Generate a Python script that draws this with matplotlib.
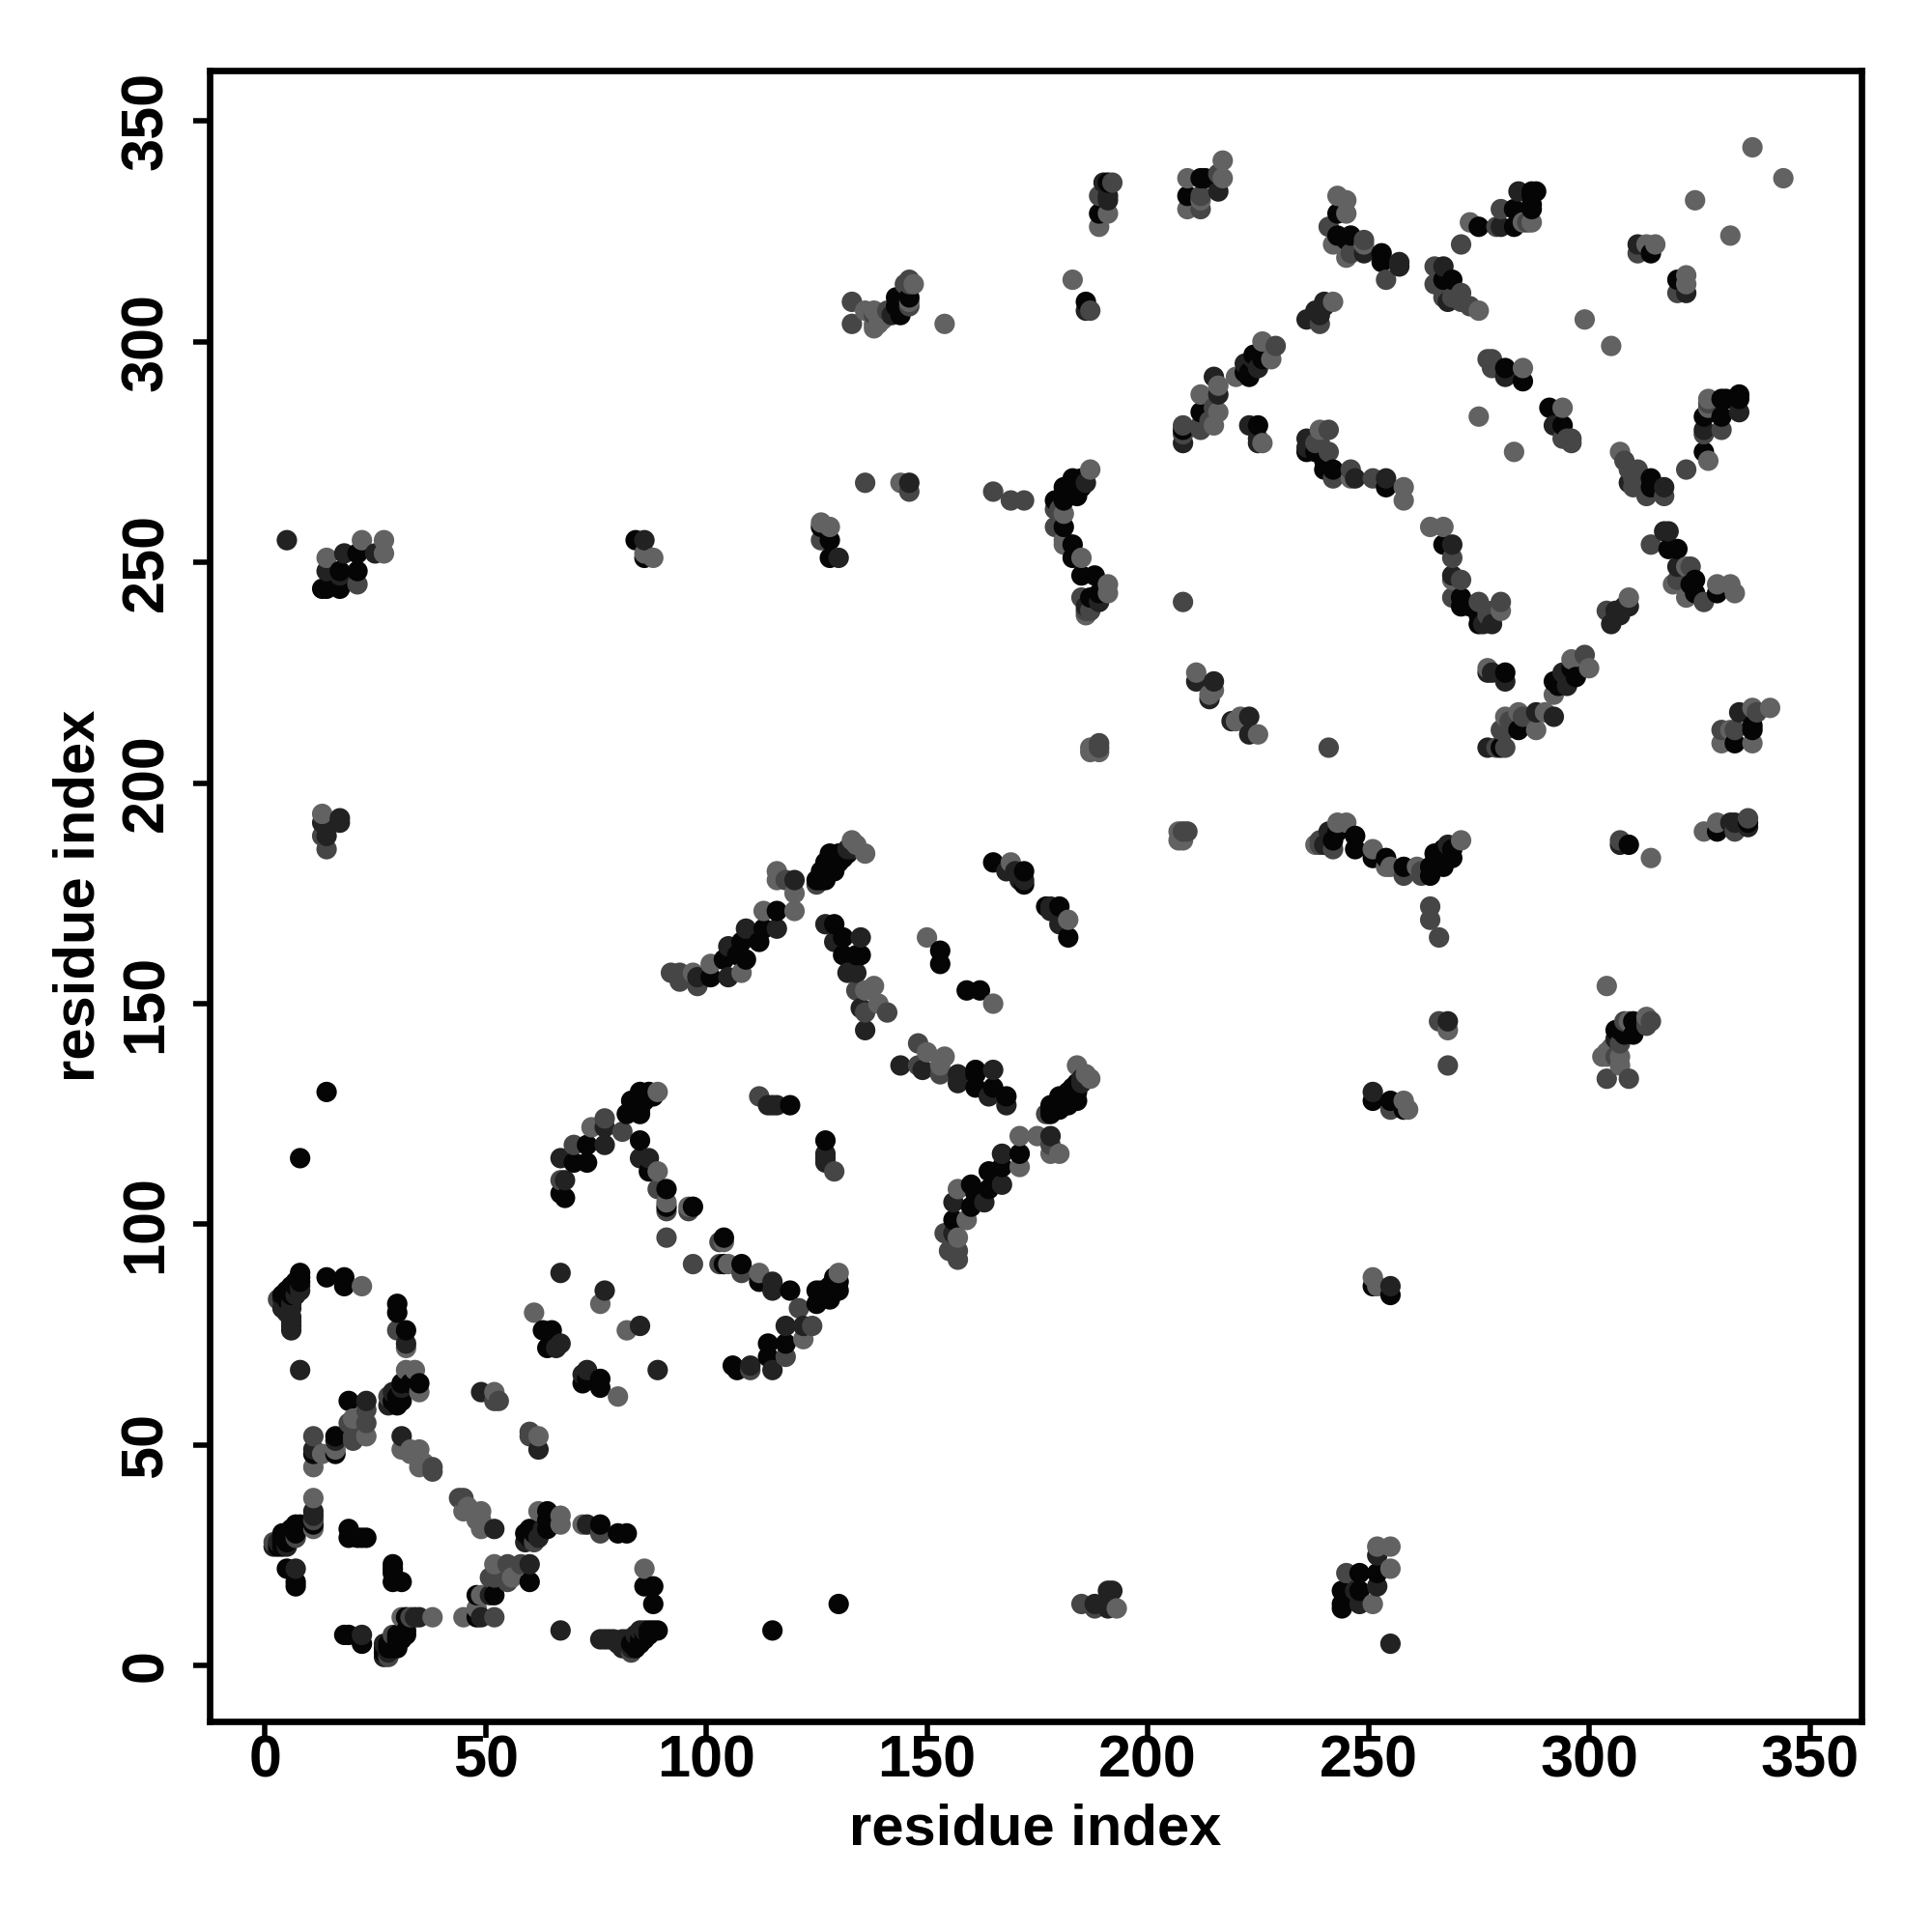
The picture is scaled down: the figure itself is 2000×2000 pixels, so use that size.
import matplotlib
matplotlib.use("Agg")
import matplotlib.pyplot as plt

tick_values = [0, 50, 100, 150, 200, 250, 300, 350]
axis_title = "residue index"

contacts_black = [
 (8,89),(8,88),(8,87),(7,87),(7,86),(6,86),(6,85),(6,84),(5,85),(5,83),(4,84),(14,88),(18,88),(18,86),
 (30,82),(30,80),(32,76),(35,64),(33,64),(31,64),(30,61),(31,60),(32,65),(30,59),(29,60),(19,60),(16,52),
 (16,48),(11,48),(63,76),(65,76),(65,73),(64,72),(5,30),(4,30),(6,30),(7,30),(5,29),(6,29),(4,28),(3,27),
 (4,27),(5,28),(8,32),(7,32),(4,29),(7,31),(6,31),(19,31),(19,29),(21,29),(23,29),(5,22),(7,19),(7,18),
 (29,23),(29,22),(29,19),(31,19),(11,32),(8,115),(14,130),
 (127,182),(126,180),(129,180),(125,178),(127,178),(129,182),(130,182),(128,184),(130,184),(116,171),
 (126,178),(127,179),(128,180),(128,181),(129,181),(130,183),(131,183),(131,184),(132,184),
 (113,167),(112,164),(108,164),(104,160),(109,160),(107,161),(101,156),(129,168),(131,165),(131,161),(135,161),
 (134,161),(153,162),(153,159),(85,130),(87,130),(83,128),(85,126),(88,129),(82,125),(85,125),(73,118),(73,114),
 (84,127),(86,128),(83,126),(84,126),(86,129),
 (70,114),(67,107),(68,106),(85,119),(87,112),(91,108),(91,104),(97,104),(104,97),(119,127),
 (165,182),(172,180),(177,172),(178,172),(180,172),(182,165),
 (143,310),(144,307),(146,310),(183,269),(185,267),(181,267),(179,264),(181,264),(181,258),(183,254),(183,251),
 (185,247),(188,247),(187,242),(189,243),(189,329),(186,309),(213,337),(209,333),(243,329),(243,324),(245,323),
 (223,292),(224,297),(222,295),(226,296),(222,293),(212,284),(225,281),(238,275),(240,271),(242,271),(247,269),
 (254,267),(211,223),(223,215),(254,314),(267,314),(269,314),(253,320),(253,318),(275,326),(283,330),(283,326),
 (288,334),(287,334),(287,330),(281,294),(285,291),(291,285),(294,281),(314,320),(314,269),(267,254),
 (271,242),(271,240),(273,240),(275,236),(277,225),(281,225),(284,212),(288,216),(280,208),(293,223),(294,225),
 (292,223),(309,186),(318,253),(320,253),(324,246),(324,243),(329,243),(337,212),(333,209),(329,189),(336,191),
 (268,186),(265,184),(258,181),(264,172),(247,188),(241,189),(247,185),(251,183),(254,183),(84,255),(21,252),
 (266,183),(267,184),(269,185),(266,182),
 (17,248),(21,248),(13,244),(14,244),(17,244),(128,251),(128,255),(126,258),(86,251),(310,146),(306,144),(308,143),
 (326,283),(330,287),(334,288),(330,283),(326,275),(331,287),(333,287),
]
contacts_dark = [
 (8,86),(8,85),(7,84),(5,82),(4,83),(6,82),(6,81),(5,81),(5,80),(6,79),(6,78),(6,77),(6,76),(4,81),(32,73),(8,67),
 (31,63),(29,62),(28,59),(23,60),(16,51),(11,49),(31,52),(49,62),(67,89),(77,85),(67,73),(66,72),(11,35),(11,34),
 (3,28),(2,27),(5,27),(7,22),
 (120,178),(116,167),(109,167),(105,163),(105,156),(98,156),(127,168),(129,164),(135,165),(132,157),(134,157),(135,149),
 (77,122),(77,118),(67,115),(68,110),(85,115),(87,115),(115,127),(116,127),(114,127),
 (168,180),(172,178),(171,178),(180,170),(133,185),(132,185),
 (142,306),(186,268),(179,262),(186,240),(189,241),(190,336),(191,332),(216,334),(240,309),(238,307),(236,305),
 (228,296),(225,294),(215,292),(216,288),(208,277),(223,281),(225,277),(236,278),(236,276),(239,277),(254,269),
 (269,254),(269,251),(269,247),(215,223),(214,219),(223,211),(249,320),(257,318),(267,317),(268,309),(284,334),
 (280,330),(279,326),(280,326),(281,292),(292,281),(311,322),(317,267),(322,271),(308,240),(306,239),(305,236),
 (307,238),(278,236),(278,225),(281,223),(292,215),(277,208),(296,224),(295,222),(318,257),(317,257),(320,249),
 (323,249),(334,216),(307,186),(333,191),(209,189),(5,255),(18,252),(25,252),(14,248),(17,247),(86,255),(130,251),
 (17,192),(17,191),(14,188),(13,191),(146,268),(136,144),(309,133),(334,284),(326,280),
]
contacts_mid = [
 (3,83),(30,76),(28,61),(23,58),(23,55),(19,55),(20,52),(20,51),(11,52),(38,45),(38,44),(53,60),(52,60),(11,33),(2,28),(7,29),
 (94,157),(92,157),(94,155),(98,154),(136,148),(141,148),(134,153),(118,178),(81,121),(77,124),(70,118),(67,110),(91,103),
 (89,108),(91,97),(96,103),(112,129),(129,112),(125,177),
 (133,309),(133,304),(146,313),(145,313),(146,308),(187,307),(146,266),(136,268),(165,266),(169,264),(172,264),(191,243),
 (179,258),(186,239),(192,336),(189,333),(212,330),(241,326),(239,304),(229,299),(216,290),(216,284),(212,280),(208,281),
 (208,279),(214,282),(226,277),(241,280),(238,277),(241,275),(242,269),(246,271),(251,269),(258,267),(258,264),(271,246),
 (271,322),(265,317),(265,313),(267,310),(269,310),(271,311),(271,309),(273,308),(277,296),(278,295),(278,294),
 (286,327),(287,327),(294,278),(296,278),(296,277),(249,323),(311,320),(315,322),(208,241),(241,208),(189,209),
 (275,283),(284,216),(285,215),(280,212),(281,212),(281,208),(292,220),(299,229),(300,226),(304,239),(314,254),(320,246),
 (326,241),(269,242),(275,241),(277,239),(280,241),(338,216),(333,212),(330,212),(307,187),(333,189),(336,192),(262,180),
 (262,179),(258,179),(239,187),(242,185),(337,344),(324,332),(21,245),(13,188),(14,185),(126,255),(266,146),(268,136),
 (307,141),(306,138),(304,133),(314,146),(330,280),(326,279),(208,189),
]
contacts_light = [
 (22,86),(32,72),(32,67),(34,67),(35,62),(23,52),(20,56),(11,45),(13,48),(16,49),(31,49),(33,49),(35,49),(33,48),(35,45),
 (36,46),(52,62),(76,82),(61,80),(82,76),(11,38),(11,31),
 (133,187),(134,186),(136,184),(116,180),(116,178),(120,175),(120,171),(113,171),(101,159),(108,157),(97,157),(138,154),(136,153),
 (139,150),(150,165),(89,130),(74,122),(89,112),(91,105),(96,104),
 (136,307),(138,307),(138,304),(140,305),(147,313),(154,304),(183,314),(144,268),(187,271),(181,261),(181,254),(185,251),
 (191,245),(186,238),(191,329),(189,326),(217,341),(209,337),(217,337),(209,330),(243,333),(245,332),(245,329),(242,322),
 (245,319),(242,309),(226,300),(228,296),(220,292),(212,288),(215,281),(239,280),(246,269),(211,225),(214,220),(221,215),
 (225,211),(187,208),(189,207),(187,207),(299,305),(273,327),(275,307),(285,294),(294,285),(322,315),(322,313),(288,212),
 (277,226),(281,215),(284,216),(290,216),(296,228),(309,242),(322,249),(322,242),(329,245),(332,245),(333,243),(280,239),
 (341,217),(337,217),(330,209),(337,209),(332,212),(314,183),(326,189),(329,191),(271,187),(251,185),(255,181),(243,191),
 (245,191),(207,189),(207,187),(169,182),(22,255),(27,255),(27,252),(14,251),(13,193),(86,252),(88,251),(128,258),(126,259),
 (304,154),(313,147),(309,146),(304,139),(303,138),(327,287),(327,285),(327,273),(344,337),(305,299),(283,275),(332,324),
 (264,258),(267,258),(307,275),
]

shades = {"black": "#050505", "dark": "#222222", "mid": "#464646", "light": "#626262"}
groups = [(contacts_black, shades["black"]), (contacts_dark, shades["dark"]),
          (contacts_mid, shades["mid"]), (contacts_light, shades["light"])]

points = {}
for pairs, colour in groups:
    for a, b in pairs:
        points[(a, b)] = colour
        points[(b, a)] = colour
ordered = sorted(points)
xs = [p[0] for p in ordered]
ys = [p[1] for p in ordered]
cs = [points[p] for p in ordered]

plt.rcParams["font.family"] = ["Liberation Sans", "DejaVu Sans"]
plt.rcParams["font.weight"] = "bold"

fig = plt.figure(figsize=(10, 10), dpi=200, facecolor="white")
ax = fig.add_axes([217/2000, 1 - 1782/2000, 1710/2000, 1709/2000])
ax.scatter(xs, ys, s=58, c=cs, linewidths=0, zorder=3)
ax.set_xlim(-12.5, 361.7)
ax.set_ylim(-12.6, 361.4)
ax.set_xticks(tick_values)
ax.set_yticks(tick_values)
ax.tick_params(axis="both", length=6.0, width=2.0, labelsize=22, color="black")
ax.tick_params(axis="x", pad=-1)
ax.tick_params(axis="y", pad=7)
for lab in ax.get_yticklabels():
    lab.set_rotation(90)
    lab.set_va("center")
for lab in ax.get_xticklabels() + ax.get_yticklabels():
    lab.set_fontweight("bold")
for s in ax.spines.values():
    s.set_linewidth(2.4)
ax.set_xlabel(axis_title, fontsize=21.5, fontweight="bold", labelpad=5)
ax.set_ylabel(axis_title, fontsize=21.5, fontweight="bold", labelpad=5)
fig.savefig("out.png", dpi=200)
